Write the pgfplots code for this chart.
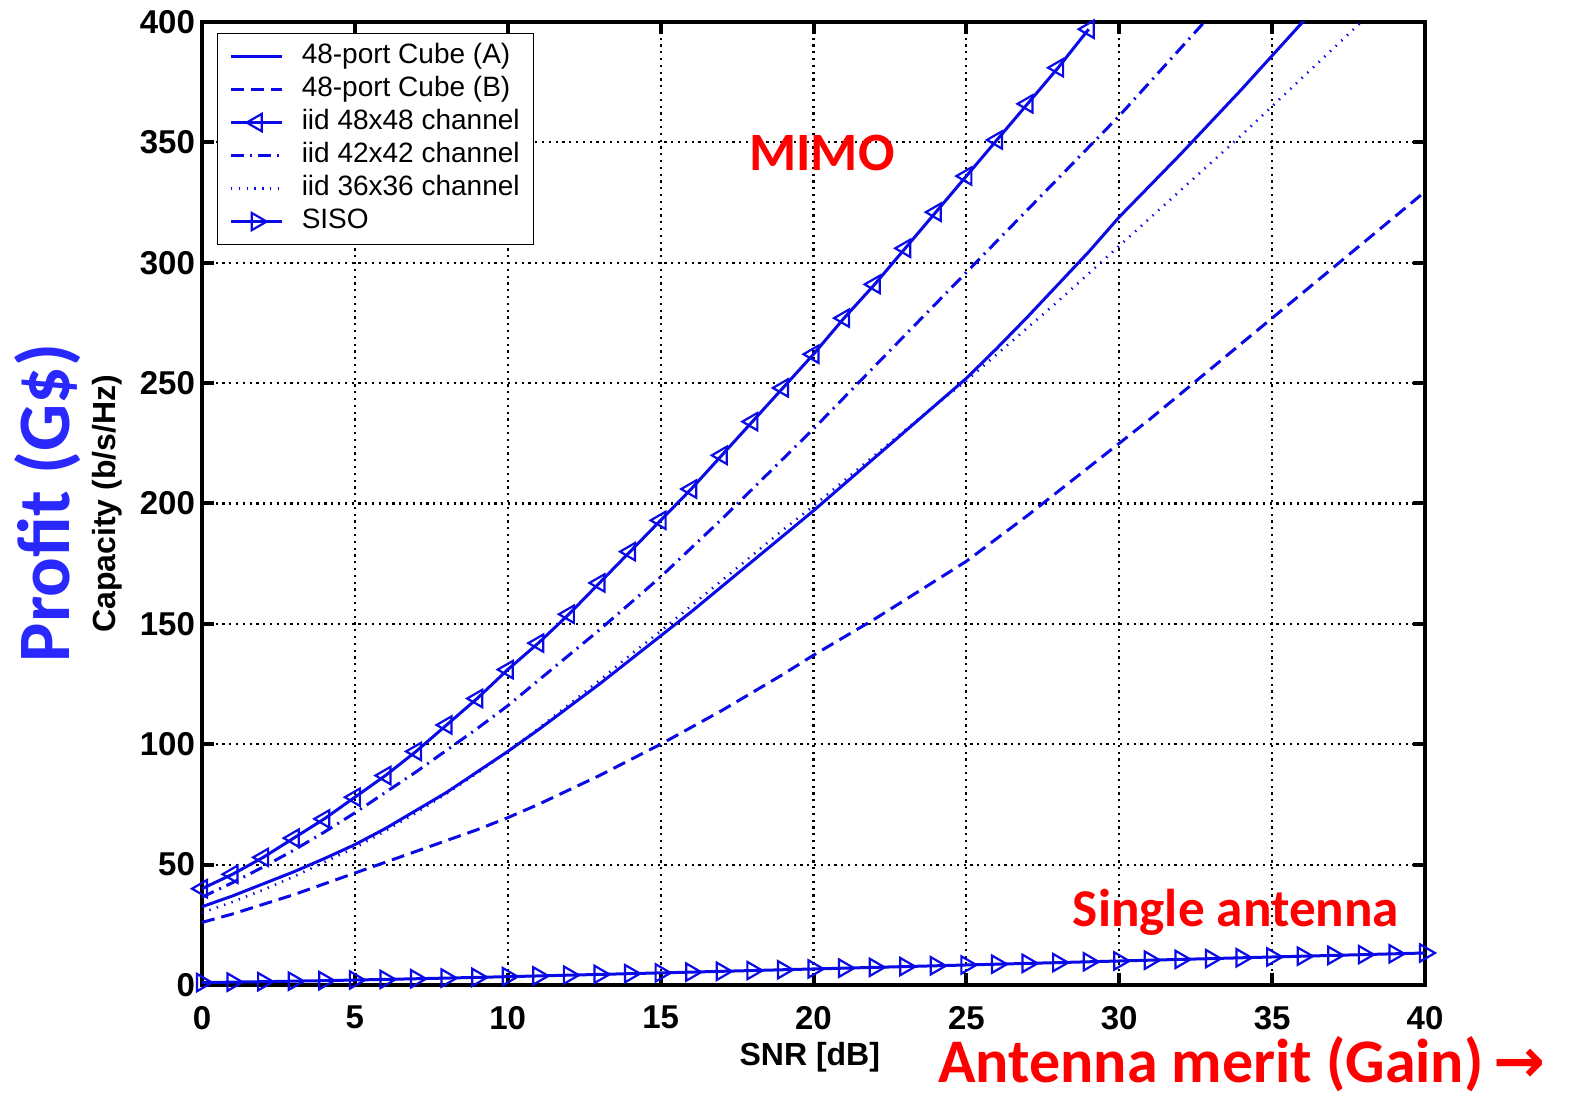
\documentclass[border=0pt]{standalone}
\usepackage{fontspec}
\setmainfont{Liberation Sans}
\newfontfamily\calibri{Carlito}
\newfontfamily\dejavu{DejaVu Sans}
\usepackage{pgfplots}
\pgfplotsset{compat=1.18}
\definecolor{curve}{RGB}{10,10,230}
\definecolor{profitblue}{RGB}{40,40,255}
\definecolor{annot}{RGB}{255,0,0}

\begin{document}
\begin{tikzpicture}
\useasboundingbox (-101pt,-58pt) rectangle (687pt,492.5pt);
\begin{axis}[
  at={(0,0)}, anchor=south west,
  scale only axis, width=611.5pt, height=481.5pt,
  xmin=0, xmax=40, ymin=0, ymax=400,
  xtick={0,5,...,40}, ytick={0,50,...,400},
  tick align=inside, major tick length=6pt,
  every tick/.style={black, line width=2pt},
  axis line style={line width=2pt},
  grid=major,
  major grid style={black, line width=1.1pt, dash pattern=on 1.1pt off 2.3pt},
  ticklabel style={font=\fontsize{16.5}{16.5}\selectfont\bfseries},
  xticklabel style={yshift=-7pt},
  /pgf/number format/assume math mode=true,
  xlabel={SNR [dB]}, ylabel={Capacity (b/s/Hz)},
  label style={font=\fontsize{16}{16}\selectfont\bfseries},
  xlabel style={at={(axis description cs:0.497,-0.084)}, anchor=base},
  ylabel style={at={(axis description cs:-0.0711,0.4995)}, anchor=base},
  legend cell align=left,
  legend style={at={(axis description cs:0.01226,0.9886)}, anchor=north west,
    draw=black, line width=0.6pt, fill=white,
    inner xsep=6pt, inner ysep=3.5pt, column sep=8pt, row sep=0.5pt,
    font=\fontsize{14}{16}\selectfont,
    nodes={inner sep=1pt, text height=10.5pt, text depth=3.5pt}},
  legend image code/.code={\draw[mark repeat=2,mark phase=2,#1] plot coordinates {(0pt,0pt) (12.8pt,0pt) (25.6pt,0pt)};},
  every axis plot/.append style={curve, line width=1.5pt},
]
% 48-port Cube (A)
\addplot[solid] coordinates {
(0,32.5) (1,37) (2,42) (3,47) (4,52.5) (5,58.3) (6,65) (7,72.5) (8,80) (9,88.5)
(10,97) (11,106) (12,115.5) (13,125) (14,135) (15,145) (16,155) (17,165.5) (18,176) (19,186.5)
(20,197) (21,208) (22,219) (23,230) (24,241) (25,252) (26,264.5) (27,277.5) (28,291) (29,304.5)
(30,319) (31,332) (32,345) (33,358.5) (34,372) (35,386) (36,400) (37,414)};
\addlegendentry{48-port Cube (A)}
% 48-port Cube (B)
\addplot[dash pattern=on 6.5pt off 3.5pt] coordinates {
(0,26) (1,29.5) (2,33.5) (3,37.5) (4,42) (5,46.5) (6,51) (7,55.5) (8,60) (9,64.5)
(10,69.5) (11,75) (12,81) (13,87) (14,93.5) (15,100) (16,107) (17,114) (18,121.5) (19,129)
(20,137) (21,144.5) (22,152) (23,160) (24,168) (25,176) (26,185.5) (27,195) (28,205) (29,215)
(30,225) (31,235) (32,245.5) (33,256) (34,266.5) (35,277) (36,287.5) (37,298) (38,308.5) (39,319)
(40,329.5)};
\addlegendentry{48-port Cube (B)}
% iid 48x48
\addplot[solid, mark=triangle, mark size=5pt, mark options={solid, rotate=90, line width=1.1pt}] coordinates {
(0,40) (1,46) (2,53) (3,61) (4,69) (5,78) (6,87) (7,97) (8,108) (9,119)
(10,131) (11,142) (12,154) (13,167) (14,180) (15,193) (16,206) (17,220) (18,234) (19,248)
(20,262) (21,277) (22,291) (23,306) (24,321) (25,336) (26,351) (27,366) (28,381) (29,397)};
\addlegendentry{iid 48x48 channel}
% iid 42x42
\addplot[dash pattern=on 6.5pt off 3pt on 1pt off 3pt] coordinates {
(0,36.5) (1,42.5) (2,49) (3,56) (4,63.5) (5,71.5) (6,80) (7,88.5) (8,97.5) (9,106.5)
(10,116) (11,126.5) (12,137) (13,147.5) (14,158.5) (15,169.5) (16,181.5) (17,193.5) (18,206) (19,218.5)
(20,231) (21,244) (22,257) (23,270) (24,283) (25,296) (26,309) (27,322) (28,335) (29,348)
(30,361) (31,375) (32,389) (33,403)};
\addlegendentry{iid 42x42 channel}
% iid 36x36
\addplot[line width=1.3pt, dash pattern=on 0.7pt off 3.2pt] coordinates {
(0,30) (1,34.5) (2,39.5) (3,45) (4,51) (5,57) (6,64) (7,71.5) (8,79.5) (9,88)
(10,97) (11,106.5) (12,116.5) (13,126.5) (14,137) (15,147) (16,157.5) (17,168) (18,178.5) (19,189)
(20,199) (21,209.5) (22,220) (23,230.5) (24,241) (25,251) (26,262) (27,273) (28,284) (29,295.5)
(30,307) (31,318.5) (32,330) (33,341.5) (34,353) (35,365) (36,377) (37,389) (38,401)};
\addlegendentry{iid 36x36 channel}
% SISO
\addplot[solid, mark=triangle, mark size=5pt, mark options={solid, rotate=-90, line width=1.1pt}] coordinates {
(0,1.00) (1,1.18) (2,1.37) (3,1.58) (4,1.81) (5,2.06) (6,2.32) (7,2.59) (8,2.87) (9,3.16)
(10,3.46) (11,3.76) (12,4.08) (13,4.39) (14,4.71) (15,5.03) (16,5.35) (17,5.68) (18,6.00) (19,6.33)
(20,6.66) (21,6.99) (22,7.32) (23,7.65) (24,7.98) (25,8.31) (26,8.64) (27,8.97) (28,9.30) (29,9.64)
(30,9.97) (31,10.30) (32,10.63) (33,10.96) (34,11.30) (35,11.63) (36,11.96) (37,12.29) (38,12.62) (39,12.96)
(40,13.29)};
\addlegendentry{SISO}
\end{axis}
% annotations
\node[rotate=90, anchor=base, inner sep=0pt, text=profitblue, font=\calibri\bfseries\fontsize{37}{37}\selectfont] at (-66pt,241pt) {Profit (G\$)};
\node[anchor=center, inner sep=0pt, text=annot, font=\calibri\bfseries\fontsize{27}{27}\selectfont] at (310pt,416pt) {MIMO};
\node[anchor=base, inner sep=0pt, text=annot, font=\calibri\bfseries\fontsize{26.6}{26.6}\selectfont] at (517pt,29pt) {Single antenna};
\node[anchor=base west, inner sep=0pt, text=annot, font=\calibri\bfseries\fontsize{31}{31}\selectfont] at (368pt,-49pt) {Antenna merit (Gain)\,{\dejavu\bfseries\fontsize{31}{31}\selectfont →}};
\end{tikzpicture}
\end{document}
